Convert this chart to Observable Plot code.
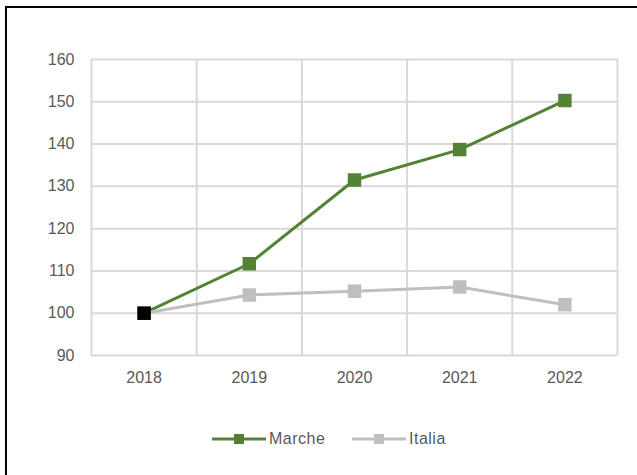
<!DOCTYPE html>
<html>
<head>
<meta charset="utf-8">
<script src="https://cdn.jsdelivr.net/npm/d3@7"></script>
<script src="https://cdn.jsdelivr.net/npm/@observablehq/plot@0.6"></script>
<style>
  html, body { margin: 0; padding: 0; background: #fff; }
  #wrap { position: relative; width: 637px; height: 475px; overflow: hidden; font-family: "Liberation Sans", Arial, sans-serif; }
  #frame { position: absolute; left: 5px; top: 6px; width: 700px; height: 600px; border-left: 2px solid #000; border-top: 2px solid #000; box-sizing: border-box; }
  #chart { position: absolute; left: 0; top: 0; }
  #legend { position: absolute; left: 0; top: 428px; width: 637px; height: 22px; font-size: 16px; color: #595959; letter-spacing: 0.5px; }
  .item { position: absolute; top: 0; display: flex; align-items: center; height: 22px; }
  .item svg { margin-right: 3px; }
</style>
</head>
<body>
<div id="wrap">
  <div id="frame"></div>
  <div id="chart"></div>
  <div id="legend"></div>
</div>
<script>
const years = [2018, 2019, 2020, 2021, 2022];
const marche = [100, 111.7, 131.5, 138.7, 150.3];
const italia = [100, 104.3, 105.2, 106.2, 102.0];
const seriesNames = ["Marche", "Italia"];
const seriesColors = ["#548235", "#BFBFBF"];
const yTicks = [90, 100, 110, 120, 130, 140, 150, 160];

const rows = [];
years.forEach((y, i) => {
  rows.push({year: y, value: marche[i], series: "Marche"});
  rows.push({year: y, value: italia[i], series: "Italia"});
});
const marcheRows = rows.filter(d => d.series === "Marche");
const italiaRows = rows.filter(d => d.series === "Italia");
const firstMarche = marcheRows.slice(0, 1);
const edges = d3.range(years[0] - 0.5, years[years.length - 1] + 1, 1);

const chart = Plot.plot({
  width: 637,
  height: 400,
  marginTop: 59,
  marginBottom: 45,
  marginLeft: 91,
  marginRight: 20,
  style: {fontFamily: "Liberation Sans, Arial, sans-serif", fontSize: "16px", color: "#595959", background: "transparent"},
  x: {domain: [years[0] - 0.5, years[years.length - 1] + 0.5], label: null},
  y: {domain: [90, 160], label: null},
  marks: [
    Plot.ruleY(yTicks, {stroke: "#D9D9D9", strokeWidth: 2}),
    Plot.ruleX(edges, {stroke: "#D9D9D9", strokeWidth: 2}),
    Plot.axisX({ticks: years, tickFormat: d => String(d), tickSize: 0, tickPadding: 16, fill: "#595959"}),
    Plot.axisY({ticks: yTicks, tickSize: 0, tickPadding: 17, fill: "#595959"}),
    Plot.line(marcheRows, {x: "year", y: "value", stroke: seriesColors[0], strokeWidth: 3}),
    Plot.line(italiaRows, {x: "year", y: "value", stroke: seriesColors[1], strokeWidth: 3}),
    Plot.dot(marcheRows, {x: "year", y: "value", symbol: "square", r: 7.6, fill: seriesColors[0]}),
    Plot.dot(italiaRows, {x: "year", y: "value", symbol: "square", r: 7.6, fill: seriesColors[1]}),
    Plot.dot(firstMarche, {x: "year", y: "value", symbol: "square", r: 7.6, fill: "#000"})
  ]
});
document.getElementById("chart").appendChild(chart);

const legend = document.getElementById("legend");
const legendX = [212, 352];
seriesNames.forEach((name, i) => {
  const item = document.createElement("div");
  item.className = "item";
  item.style.left = legendX[i] + "px";
  item.innerHTML = `<svg width="54" height="12"><line x1="0" x2="54" y1="6" y2="6" stroke="${seriesColors[i]}" stroke-width="3"/><rect x="22" y="1" width="10" height="10" fill="${seriesColors[i]}"/></svg><span>${name}</span>`;
  legend.appendChild(item);
});
</script>
</body>
</html>
